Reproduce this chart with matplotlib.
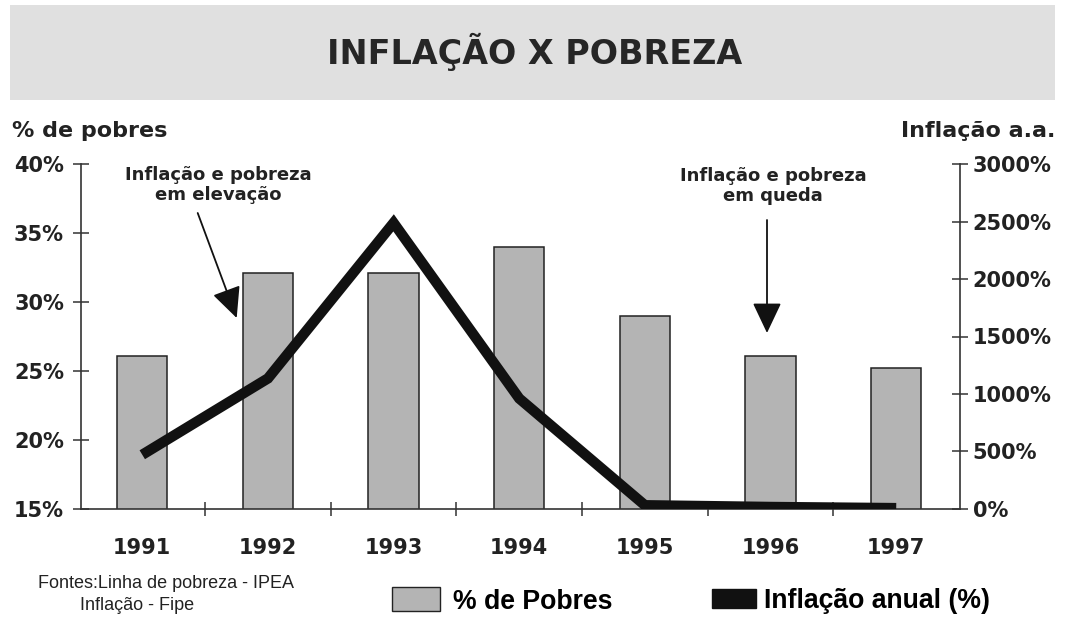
import matplotlib
matplotlib.use("Agg")
from matplotlib import pyplot as plt
from matplotlib.patches import Rectangle, Patch

# data
anos = ["1991", "1992", "1993", "1994", "1995", "1996", "1997"]
pobres = [26.1, 32.1, 32.1, 34, 29, 26.1, 25.2]    # % de pobres
inflacao = [470, 1135, 2490, 960, 30, 15, 5]        # inflação anual (%)
ticks_esq = [15, 20, 25, 30, 35, 40]
ticks_dir = [0, 500, 1000, 1500, 2000, 2500, 3000]

plt.rcParams['font.family'] = ['DejaVu Sans']
W, H = 1065, 618
TXT = "#222222"

fig = plt.figure(figsize=(10.65, 6.18), dpi=100)

# faixa do titulo
fig.patches.append(Rectangle((10 / W, 1 - 100 / H), 1045 / W, 95 / H,
                             transform=fig.transFigure, facecolor="#e0e0e0",
                             edgecolor="none", zorder=0))
fig.text(535 / W, 1 - 52 / H, "INFLAÇÃO X POBREZA", ha="center", va="center",
         fontsize=24, fontweight="bold", color="#262626")

ax = fig.add_axes([80.7 / W, 1 - 508.7 / H, 879.6 / W, 344.4 / H])
x = list(range(len(anos)))
ax.bar(x, pobres, width=0.4, color="#b4b4b4", edgecolor="#222222",
       linewidth=1.1, zorder=2)
ax.set_ylim(15, 40)
ax.set_xlim(-0.49, 6.51)
ax.set_yticks(ticks_esq)
ax.set_yticklabels([f"{t}%" for t in ticks_esq], fontsize=15, fontweight="bold",
                   color=TXT)
ax.set_xticks(x)
ax.set_xticklabels(anos, fontsize=15, fontweight="bold", color=TXT)
ax.tick_params(axis="x", length=0, pad=21)
ax.set_xticks([i + 0.5 for i in range(6)], minor=True)
ax.tick_params(axis="x", which="minor", direction="inout", length=10,
               width=1.1, color="#333333")
ax.tick_params(axis="y", direction="inout", length=12, width=1.1,
               color="#333333", pad=6)
for s in ["top", "right"]:
    ax.spines[s].set_visible(False)
for s in ["left", "bottom"]:
    ax.spines[s].set_color("#333333")
    ax.spines[s].set_linewidth(1.2)

ax2 = ax.twinx()
ax2.plot(x, inflacao, color="#111111", linewidth=7.5, solid_capstyle="butt",
         solid_joinstyle="miter", zorder=3)
ax2.set_ylim(0, 3000)
ax2.set_yticks(ticks_dir)
ax2.set_yticklabels([f"{t}%" for t in ticks_dir], fontsize=15, fontweight="bold",
                    color=TXT)
ax2.tick_params(axis="y", direction="inout", length=12, width=1.1,
                color="#333333", pad=3)
for s in ["top", "left", "bottom"]:
    ax2.spines[s].set_visible(False)
ax2.spines["right"].set_color("#333333")
ax2.spines["right"].set_linewidth(1.2)

# titulos dos eixos
fig.text(12 / W, 1 - 131 / H, "% de pobres", ha="left", va="center",
         fontsize=16, fontweight="bold", color=TXT)
fig.text(1055 / W, 1 - 131 / H, "Inflação a.a.", ha="right", va="center",
         fontsize=16, fontweight="bold", color=TXT)

# anotacoes
seta = dict(arrowstyle="-|>,head_length=1.9,head_width=0.9", color="#111111",
            lw=1.3, shrinkA=0, shrinkB=0)
fig.text(218 / W, 1 - 185 / H, "Inflação e pobreza\nem elevação", ha="center",
         va="center", fontsize=13, fontweight="bold", color=TXT, linespacing=1.2)
fig.text(773 / W, 1 - 186 / H, "Inflação e pobreza\nem queda", ha="center",
         va="center", fontsize=13, fontweight="bold", color=TXT, linespacing=1.2)
ax.annotate("", xy=(236.7 / W, 1 - 318 / H), xytext=(197.7 / W, 1 - 213 / H),
            xycoords="figure fraction", textcoords="figure fraction",
            arrowprops=seta)
ax.annotate("", xy=(767 / W, 1 - 333 / H), xytext=(767 / W, 1 - 220 / H),
            xycoords="figure fraction", textcoords="figure fraction",
            arrowprops=seta)

# fontes
narrow = ["Liberation Sans Narrow", "Liberation Sans"]
fig.text(38 / W, 1 - 584 / H, "Fontes:Linha de pobreza - IPEA", ha="left",
         va="center", fontsize=13, color=TXT, family=narrow)
fig.text(80 / W, 1 - 606 / H, "Inflação - Fipe", ha="left",
         va="center", fontsize=13, color=TXT, family=narrow)

# legenda
leg_font = {"weight": "bold", "size": 19.2, "family": narrow}
l1 = fig.legend(handles=[Patch(facecolor="#b4b4b4", edgecolor="#222222",
                               label="% de Pobres")],
                loc="center left", bbox_to_anchor=(392 / W, 1 - 601 / H),
                frameon=False, prop=leg_font, borderpad=0, borderaxespad=0,
                handlelength=1.8, handleheight=1.0, handletextpad=0.5)
l2 = fig.legend(handles=[Patch(facecolor="#111111", edgecolor="#111111",
                               label="Inflação anual (%)")],
                loc="center left", bbox_to_anchor=(712 / W, 1 - 601 / H),
                frameon=False, prop=leg_font, borderpad=0, borderaxespad=0,
                handlelength=1.65, handleheight=0.68, handletextpad=0.3)

fig.savefig("out.png", dpi=100)
